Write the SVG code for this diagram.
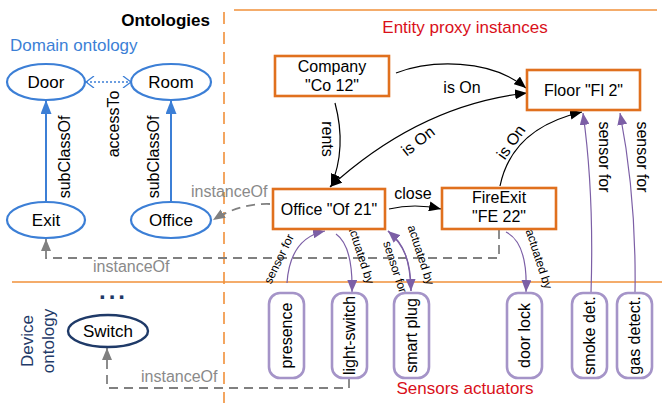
<svg xmlns="http://www.w3.org/2000/svg" width="662" height="403" viewBox="0 0 662 403">
<style>
text{font-family:"Liberation Sans",Arial,sans-serif;fill:#000}
.onto{fill:#fff;stroke:#3c7fd6;stroke-width:2.2}
.box{fill:#fff;stroke:#e0701e;stroke-width:2.6}
.dev{fill:#fff;stroke:#a594c8;stroke-width:2.6}
.lbl{font-size:17px;text-anchor:middle}
.bl{font-size:16px;text-anchor:middle}
.rel{font-size:16px}
.sm{font-size:12px}
.gray{fill:#8a8a8a;font-size:16px}
.blk{fill:none;stroke:#000;stroke-width:1.2}
.pur{fill:none;stroke:#7c5fa6;stroke-width:1.2}
.dash{fill:none;stroke:#808080;stroke-width:1.8;stroke-dasharray:9 6}
.sep{stroke:#f0903a;stroke-width:1.6;fill:none}
</style>
<defs>
<marker id="mBlue" viewBox="0 0 14 11" refX="14" refY="5.5" markerWidth="14" markerHeight="11" markerUnits="userSpaceOnUse" orient="auto-start-reverse"><path d="M0,0 L14,5.5 L0,11 z" fill="#3c7fd6"/></marker>
<marker id="mV" viewBox="0 0 10 12" refX="9" refY="6" markerWidth="10" markerHeight="12" markerUnits="userSpaceOnUse" orient="auto-start-reverse"><path d="M1,0 L9,6 L1,12" fill="none" stroke="#3c7fd6" stroke-width="1.3"/></marker>
<marker id="mBlk" viewBox="0 0 12 10" refX="12" refY="5" markerWidth="12" markerHeight="10" markerUnits="userSpaceOnUse" orient="auto-start-reverse"><path d="M0,0 L12,5 L0,10 z" fill="#000"/></marker>
<marker id="mPur" viewBox="0 0 12 10" refX="12" refY="5" markerWidth="12" markerHeight="10" markerUnits="userSpaceOnUse" orient="auto-start-reverse"><path d="M0,0 L12,5 L0,10 z" fill="#7c5fa6"/></marker>
<marker id="mGray" viewBox="0 0 12 10" refX="12" refY="5" markerWidth="12" markerHeight="10" markerUnits="userSpaceOnUse" orient="auto-start-reverse"><path d="M0,0 L12,5 L0,10 z" fill="#808080"/></marker>
</defs>

<g id="separators">
<line class="sep" x1="224" y1="12" x2="224" y2="403" stroke-dasharray="12 8"/>
<line class="sep" x1="234" y1="10" x2="657" y2="10" stroke="#f4a868"/>
<line class="sep" x1="12" y1="282" x2="662" y2="282"/>
</g>

<g id="titles">
<text x="210" y="26" font-size="17" font-weight="bold" text-anchor="end">Ontologies</text>
<text x="10" y="51" font-size="17" style="fill:#3c7fd6">Domain ontology</text>
<text x="465" y="33" font-size="17" text-anchor="middle" style="fill:#d9101a">Entity proxy instances</text>
<text x="465" y="394" font-size="17" text-anchor="middle" style="fill:#d9101a">Sensors actuators</text>
<text font-size="17" text-anchor="middle" dominant-baseline="central" style="fill:#1f3a68" transform="translate(27,341) rotate(-90)">Device</text>
<text font-size="17" text-anchor="middle" dominant-baseline="central" style="fill:#1f3a68" transform="translate(48,341) rotate(-90)">ontology</text>
<text x="99" y="299" font-size="24" font-weight="bold" letter-spacing="3" style="fill:#1f3a68">...</text>
</g>

<g id="connectors">
<line x1="86" y1="82" x2="131" y2="82" stroke="#3c7fd6" stroke-width="1.6" stroke-dasharray="2 2" marker-start="url(#mV)" marker-end="url(#mV)"/>
<line x1="46" y1="201" x2="46" y2="100" stroke="#3c7fd6" stroke-width="2" marker-end="url(#mBlue)"/>
<line x1="171" y1="201" x2="171" y2="100" stroke="#3c7fd6" stroke-width="2" marker-end="url(#mBlue)"/>
<text class="rel" text-anchor="middle" dominant-baseline="central" transform="translate(113,124) rotate(-90)">accessTo</text>
<text class="rel" text-anchor="middle" dominant-baseline="central" transform="translate(64,157) rotate(-90)">subClassOf</text>
<text class="rel" text-anchor="middle" dominant-baseline="central" transform="translate(153,157) rotate(-90)">subClassOf</text>

<path class="dash" d="M270,204 Q240,203 213,220" marker-end="url(#mGray)"/>
<text class="gray" x="191" y="197">instanceOf</text>
<path class="dash" d="M499,230 L499,258 L46,258 L46,239" marker-end="url(#mGray)"/>
<text class="gray" x="93" y="272">instanceOf</text>
<path class="dash" d="M349,379 L349,388 L107,388 L107,348" marker-end="url(#mGray)"/>
<text class="gray" x="141" y="382">instanceOf</text>

<path class="blk" d="M396,73 C430,60 490,58 526,88" marker-end="url(#mBlk)"/>
<text class="rel" x="462" y="93" text-anchor="middle">is On</text>
<path class="blk" d="M527,93 Q420,105 330,187" marker-start="url(#mBlk)" marker-end="url(#mBlk)"/>
<text class="rel" text-anchor="middle" dominant-baseline="central" transform="translate(418,141) rotate(-38)">is On</text>
<path class="blk" d="M335,103 Q347,148 331,186" marker-end="url(#mBlk)"/>
<text class="rel" text-anchor="middle" dominant-baseline="central" transform="translate(327,139) rotate(90)">rents</text>
<path class="blk" d="M500,186 Q512,128 582,112" marker-end="url(#mBlk)"/>
<text class="rel" text-anchor="middle" dominant-baseline="central" transform="translate(511,142) rotate(-55)">is On</text>
<path class="blk" d="M389,209 Q415,203 441,209" marker-end="url(#mBlk)"/>
<text class="rel" x="413" y="199" text-anchor="middle">close</text>

<path class="pur" d="M287,283 Q290,238 325,231" marker-end="url(#mPur)"/>
<text class="sm" text-anchor="middle" dominant-baseline="central" transform="translate(279,259) rotate(-64)">sensor for</text>
<path class="pur" d="M336,234 Q353,246 352,292" marker-end="url(#mPur)"/>
<text class="sm" text-anchor="middle" dominant-baseline="central" transform="translate(361,254) rotate(72)">actuated by</text>
<path class="pur" d="M411,291 C411,262 405,246 388,231" marker-end="url(#mPur)"/>
<path class="pur" d="M388,231 C404,243 410,260 411,291" marker-end="url(#mPur)"/>
<text class="sm" text-anchor="middle" dominant-baseline="central" transform="translate(395,267) rotate(72)">sensor for</text>
<text class="sm" text-anchor="middle" dominant-baseline="central" transform="translate(421,255) rotate(72)">actuated by</text>
<path class="pur" d="M506,232 Q528,243 526,292" marker-end="url(#mPur)"/>
<text class="sm" text-anchor="middle" dominant-baseline="central" transform="translate(539,259) rotate(72)">actuated by</text>
<path class="pur" d="M591,293 C593,230 591,170 583,113" marker-end="url(#mPur)"/>
<text class="rel" text-anchor="middle" dominant-baseline="central" transform="translate(604,157) rotate(90)">sensor for</text>
<path class="pur" d="M635,293 C636,230 631,170 620,113" marker-end="url(#mPur)"/>
<text class="rel" text-anchor="middle" dominant-baseline="central" transform="translate(642,157) rotate(90)">sensor for</text>
</g>

<g id="door"><ellipse class="onto" cx="46" cy="82" rx="39" ry="18"/><text class="lbl" x="46" y="88">Door</text></g>
<g id="room"><ellipse class="onto" cx="171" cy="82" rx="40" ry="18"/><text class="lbl" x="171" y="88">Room</text></g>
<g id="exit"><ellipse class="onto" cx="46" cy="220" rx="39" ry="18"/><text class="lbl" x="46" y="226">Exit</text></g>
<g id="office"><ellipse class="onto" cx="171" cy="220" rx="40" ry="18"/><text class="lbl" x="171" y="226">Office</text></g>
<g id="switch"><ellipse cx="108" cy="331" rx="40" ry="16" fill="#fff" stroke="#1f3a68" stroke-width="2.4"/><text class="lbl" x="108" y="337">Switch</text></g>

<g id="company"><rect class="box" x="275" y="56" width="114" height="40"/><text class="bl" x="332" y="72">Company</text><text class="bl" x="332" y="91">"Co 12"</text></g>
<g id="floor"><rect class="box" x="527" y="70" width="113" height="40"/><text class="bl" x="583.5" y="96">Floor "Fl 2"</text></g>
<g id="office-of21"><rect class="box" x="273" y="189" width="112" height="40"/><text class="bl" x="329" y="215">Office "Of 21"</text></g>
<g id="fireexit"><rect class="box" x="442" y="188" width="114" height="41"/><text class="bl" x="499" y="203">FireExit</text><text class="bl" x="499" y="222">"FE 22"</text></g>

<g id="presence"><rect class="dev" x="269" y="293" width="35" height="85" rx="11"/><text class="bl" dominant-baseline="central" transform="translate(286.5,335.5) rotate(-90)">presence</text></g>
<g id="light-switch"><rect class="dev" x="332" y="293" width="35" height="85" rx="11"/><text class="bl" dominant-baseline="central" transform="translate(349.5,335.5) rotate(-90)">light-switch</text></g>
<g id="smart-plug"><rect class="dev" x="394" y="293" width="35" height="85" rx="11"/><text class="bl" dominant-baseline="central" transform="translate(411.5,335.5) rotate(-90)">smart plug</text></g>
<g id="door-lock"><rect class="dev" x="507" y="293" width="35" height="85" rx="11"/><text class="bl" dominant-baseline="central" transform="translate(524.5,335.5) rotate(-90)">door lock</text></g>
<g id="smoke-det"><rect class="dev" x="572" y="293" width="35" height="85" rx="11"/><text class="bl" dominant-baseline="central" transform="translate(589.5,335.5) rotate(-90)">smoke det.</text></g>
<g id="gas-detect"><rect class="dev" x="617" y="293" width="35" height="85" rx="11"/><text class="bl" dominant-baseline="central" transform="translate(634.5,335.5) rotate(-90)">gas detect.</text></g>
</svg>
